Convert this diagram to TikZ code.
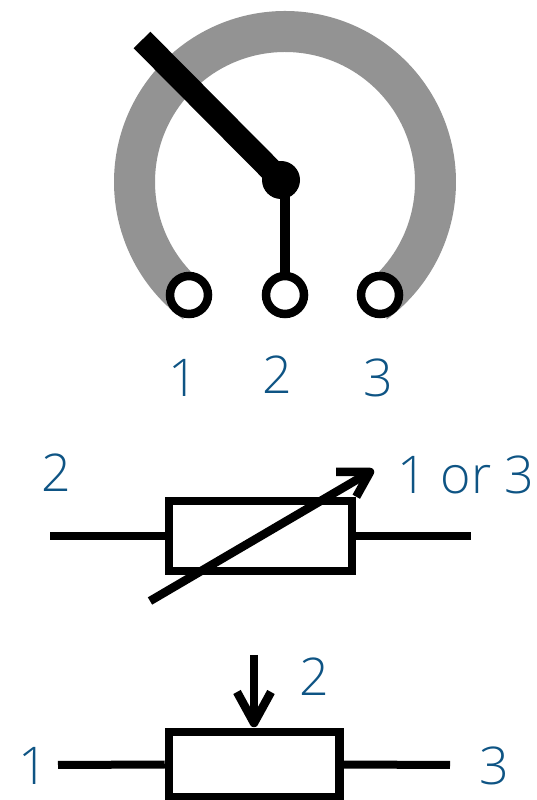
\documentclass[tikz,border=0pt]{standalone}
\usepackage{fontspec}
\usetikzlibrary{calc}
\setmainfont{Open Sans Light}
\definecolor{lab}{HTML}{0E5484}
\definecolor{trackgray}{HTML}{939393}
\tikzset{
  x=1pt,y=1pt,
  lab/.style={text=lab,font=\fontsize{52}{52}\selectfont,inner sep=0pt,anchor=center},
  wire/.style={draw=black,line width=8pt},
  pin/.style={circle,draw=black,fill=white,line width=8.5pt,minimum size=38pt,inner sep=0pt},
  hub/.style={circle,fill=black,minimum size=38pt,inner sep=0pt},
  resistor/.style={rectangle,draw=black,fill=white,line width=8.5pt,inner sep=0pt},
  tip/.style={draw=black,line width=8.5pt,line join=round}
}
\begin{document}
\begin{tikzpicture}
\useasboundingbox (0,0) rectangle (537,800);
% track
\coordinate (c) at (285,618);
\fill[trackgray] ($(c)+(233.5:171)$) arc (233.5:-53.5:171) -- ($(c)+(-43.5:130)$) arc (-43.5:223.5:130) -- cycle;
% wiper
\node[hub] (h) at (281,620) {};
\coordinate (wt) at (142,760);
\draw[draw=black,line width=23.5pt] (wt) -- (h.center);
\node[pin] (p1) at (189,505) {};
\node[pin] (p2) at (285,505) {};
\node[pin] (p3) at (380,505) {};
\coordinate (hs) at (285,610);
\draw[wire,line width=10pt] (hs) -- (p2);
\node[lab] (l1) at (183,422) {1};
\node[lab] (l2) at (277,425) {2};
\node[lab] (l3) at (378,422) {3};
% variable resistor
\node[resistor,minimum width=183pt,minimum height=70pt] (r1) at (260.5,264) {};
\coordinate (a1) at (50,264);
\coordinate (a2) at (471,264);
\draw[wire] (a1) -- (r1.west);
\draw[wire] (r1.east) -- (a2);
\coordinate (d1) at (150,199);
\coordinate (d2) at (370,328);
\coordinate (d3) at (336,328);
\draw[tip] (d1) -- (d2);
\draw[tip] (d3) -- (d2) -- (r1.north east);
\node[lab] (l4) at (56,327) {2};
\node[lab] (l5) at (466,325) {1 or 3};
% fixed
\node[resistor,minimum width=170.5pt,minimum height=65pt] (r2) at (254.25,35.5) {};
\coordinate (b1) at (58,35);
\coordinate (b2) at (450,35);
\draw[wire] (b1) -- (r2.west);
\draw[wire] (r2.east) -- (b2);
\coordinate (e1) at (254,145);
\coordinate (e2) at (254,77);
\coordinate (e3) at (237,108);
\coordinate (e4) at (271,108);
\draw[tip] (e1) -- (e2);
\draw[tip] (e3) -- (e2) -- (e4);
\node[lab] (l6) at (314,123) {2};
\node[lab] (l7) at (33,34) {1};
\node[lab] (l8) at (494,34) {3};
\end{tikzpicture}
\end{document}
